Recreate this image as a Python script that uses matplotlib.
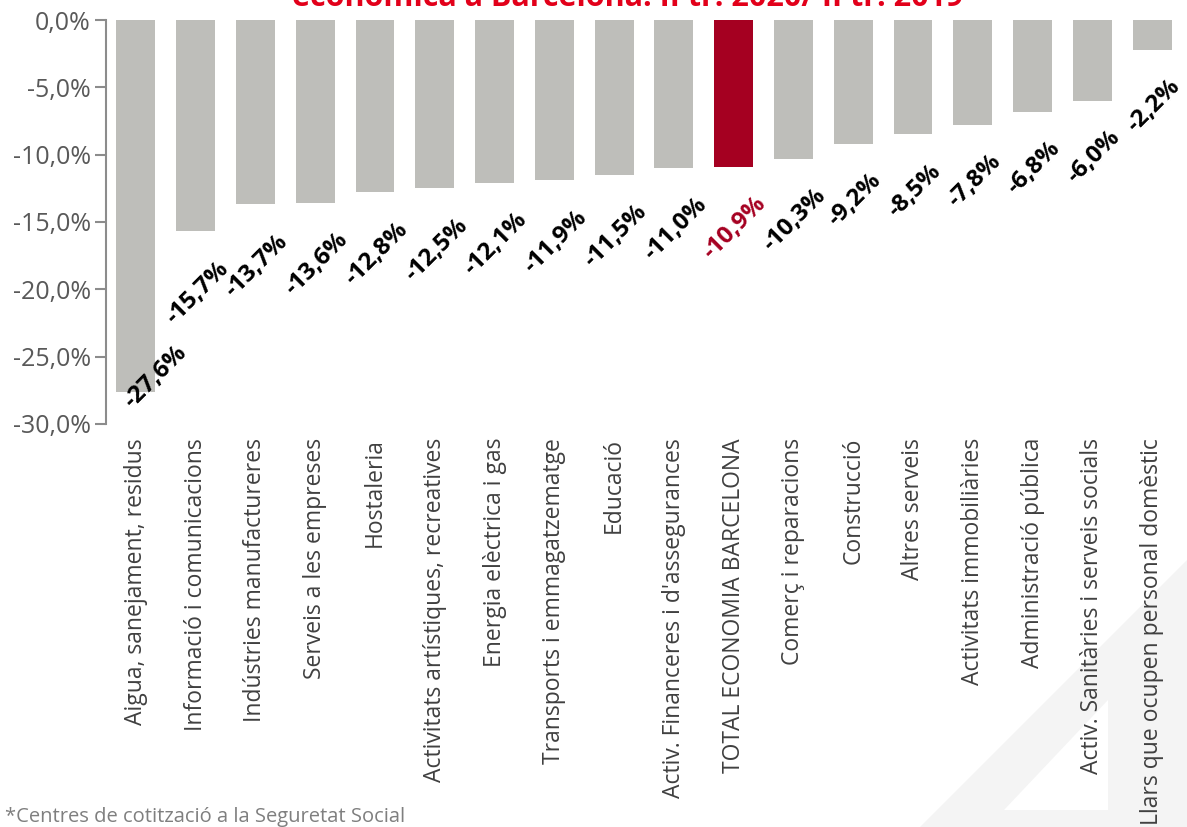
import matplotlib.pyplot as plt
from matplotlib.patches import Polygon
from matplotlib.ticker import FuncFormatter

plt.rcParams['font.family'] = ['Open Sans', 'DejaVu Sans']

# Sectors and year-on-year change (%)
categories = [
    "Aigua, sanejament, residus",
    "Informació i comunicacions",
    "Indústries manufactureres",
    "Serveis a les empreses",
    "Hostaleria",
    "Activitats artístiques, recreatives",
    "Energia elèctrica i gas",
    "Transports i emmagatzematge",
    "Educació",
    "Activ. Financeres i d'assegurances",
    "TOTAL ECONOMIA BARCELONA",
    "Comerç i reparacions",
    "Construcció",
    "Altres serveis",
    "Activitats immobiliàries",
    "Administració pública",
    "Activ. Sanitàries i serveis socials",
    "Llars que ocupen personal domèstic",
]
values = [-27.6, -15.7, -13.7, -13.6, -12.8, -12.5, -12.1, -11.9, -11.5,
          -11.0, -10.9, -10.3, -9.2, -8.5, -7.8, -6.8, -6.0, -2.2]
highlight = "TOTAL ECONOMIA BARCELONA"

title = "econòmica a Barcelona. II tr. 2020/ II tr. 2019"
footnote = "*Centres de cotització a la Seguretat Social"

grey_bar = '#bebeba'
red_bar = '#a50021'

W, H = 1187, 827
fig = plt.figure(figsize=(W / 100, H / 100), dpi=100)

# faint watermark in the bottom-right corner (figure pixel coords)
def px(pts):
    return [(x / W, 1 - y / H) for x, y in pts]

fig.patches.append(Polygon(px([(920, 827), (1187, 560), (1187, 827)]),
                           closed=True, transform=fig.transFigure,
                           facecolor='#f4f4f4', edgecolor='none', zorder=-2))
fig.patches.append(Polygon(px([(1004, 810), (1108, 700), (1108, 810)]),
                           closed=True, transform=fig.transFigure,
                           facecolor='white', edgecolor='none', zorder=-1))

ax = fig.add_axes([106 / W, 1 - 424 / H, (1182 - 106) / W, (424 - 20) / H])
ax.patch.set_alpha(0)

x = list(range(len(categories)))
colors = [red_bar if c == highlight else grey_bar for c in categories]
ax.bar(x, values, width=0.65, color=colors, zorder=2)

ax.set_xlim(-0.5, len(categories) - 0.5)
ax.set_ylim(-30, 0)
ax.set_yticks([0, -5, -10, -15, -20, -25, -30])
ax.yaxis.set_major_formatter(FuncFormatter(lambda v, p: f"{v:.1f}%".replace('.', ',')))

for s in ['top', 'right', 'bottom']:
    ax.spines[s].set_visible(False)
ax.spines['left'].set_color('#8c8c8c')
ax.spines['left'].set_linewidth(1.5)
ax.tick_params(axis='y', colors='#8c8c8c', labelcolor='#595959', labelsize=18,
               length=8, width=1.5, pad=3)

ax.set_xticks(x)
ax.set_xticklabels(categories, rotation=90, fontsize=16.5, color='#404040')
ax.tick_params(axis='x', length=0, pad=10)

# value labels, rotated 45 degrees below each bar
for xi, v, c in zip(x, values, categories):
    lab = f"{v:.1f}%".replace('.', ',')
    col = red_bar if c == highlight else 'black'
    if v < -25:
        # no room under the bar: keep it inside the plot area
        ax.annotate(lab, (xi, -30), xytext=(14, 8), textcoords='offset points',
                    ha='center', va='bottom', rotation=45, fontsize=17.5,
                    fontweight='bold', color=col, zorder=3)
    else:
        ax.annotate(lab, (xi, v), xytext=(1, -18), textcoords='offset points',
                    ha='center', va='top', rotation=45, fontsize=17.5,
                    fontweight='bold', color=col, zorder=3)

fig.text(628 / W, 1 - 6 / H, title, ha='center', va='baseline', fontsize=22,
         fontweight='bold', color='#e2001a')
fig.text(5 / W, 1 - 817 / H, footnote, ha='left', va='center', fontsize=14.5,
         color='#7f7f7f')

fig.savefig('out.png', dpi=100)
